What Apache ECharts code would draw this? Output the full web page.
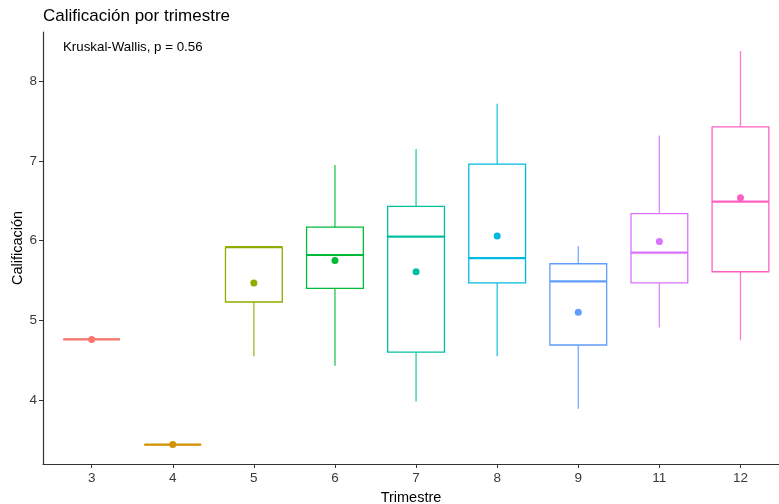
<!DOCTYPE html>
<html>
<head>
<meta charset="utf-8">
<script src="https://cdn.jsdelivr.net/npm/echarts@6/dist/echarts.min.js"></script>
<style>html,body{margin:0;padding:0;background:#fff}#c{width:779px;height:504px}</style>
</head>
<body>
<div id="c"></div>
<script>
const categories = ['3','4','5','6','7','8','9','11','12'];
const colors = ['#F8766D','#D39200','#93AA00','#00BA38','#00C19F','#00B9E3','#619CFF','#DB72FB','#FF61C3'];
const mins    = [4.76, 3.44, 4.55, 4.43, 3.98, 4.55, 3.89, 4.91, 4.75];
const q1s     = [4.76, 3.44, 5.23, 5.40, 4.60, 5.47, 4.69, 5.47, 5.61];
const medians = [4.76, 3.44, 5.92, 5.82, 6.05, 5.78, 5.49, 5.85, 6.49];
const q3s     = [4.76, 3.44, 5.92, 6.17, 6.43, 6.96, 5.71, 6.34, 7.43];
const maxs    = [4.76, 3.44, 5.92, 6.95, 7.15, 7.72, 5.93, 7.32, 8.38];
const means   = [4.76, 3.44, 5.47, 5.75, 5.61, 6.06, 5.10, 5.99, 6.54];
const yTicks  = [4, 5, 6, 7, 8];

const boxData = categories.map((c, i) => [i + 1, mins[i], q1s[i], medians[i], q3s[i], maxs[i], i]);
const meanData = categories.map((c, i) => [i + 1, means[i], i]);

const chart = echarts.init(document.getElementById('c'), null, {renderer: 'canvas'});
const font = 'Liberation Sans, Arial, sans-serif';

function renderBox(params, api) {
  const x = api.value(0);
  const ci = api.value(6);
  const col = colors[ci];
  const halfW = api.size([0.35, 0])[0];
  const pMin = api.coord([x, api.value(1)]);
  const pQ1 = api.coord([x, api.value(2)]);
  const pMed = api.coord([x, api.value(3)]);
  const pQ3 = api.coord([x, api.value(4)]);
  const pMax = api.coord([x, api.value(5)]);
  const cx = pMed[0];
  const stroke = {stroke: col, lineWidth: 1.3, fill: null, opacity: 0.85};
  return {
    type: 'group',
    children: [
      {type: 'line', shape: {x1: cx, y1: pQ3[1], x2: cx, y2: pMax[1]}, style: stroke},
      {type: 'line', shape: {x1: cx, y1: pQ1[1], x2: cx, y2: pMin[1]}, style: stroke},
      {type: 'rect', shape: {x: cx - halfW, y: pQ3[1], width: halfW * 2, height: pQ1[1] - pQ3[1]}, style: {stroke: col, lineWidth: 1.3, fill: 'transparent'}},
      {type: 'line', shape: {x1: cx - halfW, y1: pMed[1], x2: cx + halfW, y2: pMed[1]}, style: {stroke: col, lineWidth: 2.2}}
    ]
  };
}

chart.setOption({
  animation: false,
  backgroundColor: '#fff',
  title: [
    {text: 'Calificación por trimestre', left: 43, top: 8, padding: 0, textStyle: {fontFamily: font, fontSize: 17, fontWeight: 'normal', color: '#000'}},
    {text: 'Kruskal-Wallis, p = 0.56', left: 63, top: 41, padding: 0, textStyle: {fontFamily: font, fontSize: 13.3, fontWeight: 'normal', color: '#000'}}
  ],
  grid: {left: 43, right: 0, top: 32, bottom: 40, containLabel: false, outerBoundsMode: 'none'},
  xAxis: {
    type: 'value', min: 0.4, max: 9.475,
    name: 'Trimestre', nameLocation: 'middle', nameGap: 26, nameMoveOverlap: false,
    nameTextStyle: {fontFamily: font, fontSize: 14.5, color: '#000'},
    splitLine: {show: false},
    axisLine: {show: true, onZero: false, lineStyle: {color: '#333', width: 1.2}},
    axisTick: {show: true, length: 4, lineStyle: {color: '#333'}, customValues: [1,2,3,4,5,6,7,8,9]},
    axisLabel: {fontFamily: font, fontSize: 13.5, color: '#3a3a3a', margin: 7,
      customValues: [1,2,3,4,5,6,7,8,9],
      formatter: v => categories[Math.round(v) - 1] || ''}
  },
  yAxis: {
    type: 'value', min: 3.196, max: 8.62,
    name: 'Calificación', nameLocation: 'middle', nameGap: 18, nameMoveOverlap: false,
    nameTextStyle: {fontFamily: font, fontSize: 14.5, color: '#000'},
    splitLine: {show: false},
    axisLine: {show: true, onZero: false, lineStyle: {color: '#333', width: 1.2}},
    axisTick: {show: true, length: 4, lineStyle: {color: '#333'}, customValues: yTicks},
    axisLabel: {fontFamily: font, fontSize: 13.5, color: '#3a3a3a', margin: 6, customValues: yTicks}
  },
  series: [
    {
      type: 'custom',
      renderItem: renderBox,
      data: boxData,
      encode: {x: 0, y: [1, 2, 3, 4, 5]},
      clip: false
    },
    {
      type: 'scatter',
      data: meanData,
      symbolSize: 7,
      itemStyle: {color: p => colors[p.value[2]], opacity: 1},
      z: 5
    }
  ]
});
</script>
</body>
</html>
